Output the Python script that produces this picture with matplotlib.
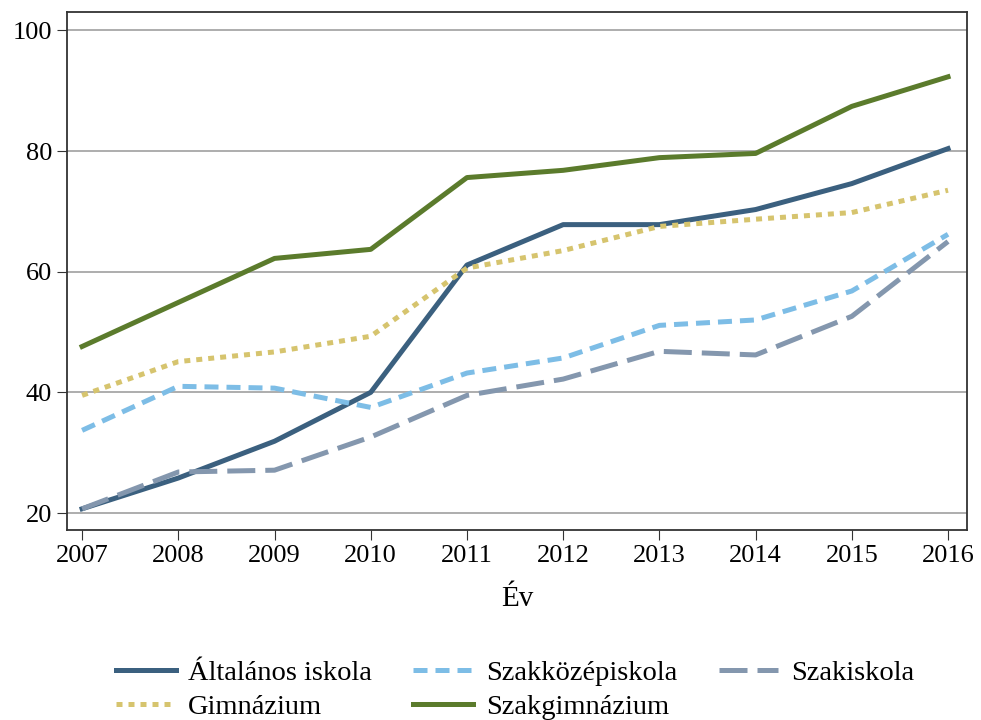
import numpy as np
import matplotlib
matplotlib.use("Agg")
import matplotlib.pyplot as plt

plt.rcParams['font.family'] = ['Liberation Serif', 'DejaVu Serif']

years = [2007, 2008, 2009, 2010, 2011, 2012, 2013, 2014, 2015, 2016]

# értékek
altalanos = [20.7, 25.8, 31.9, 40.0, 61.1, 67.8, 67.8, 70.3, 74.6, 80.4]
gimnazium = [39.5, 45.1, 46.7, 49.3, 60.6, 63.5, 67.5, 68.7, 69.8, 73.5]
szakkozep = [33.7, 41.0, 40.7, 37.5, 43.2, 45.7, 51.1, 52.0, 56.8, 66.2]
szakgimn = [47.6, 54.9, 62.2, 63.7, 75.6, 76.8, 78.9, 79.6, 87.4, 92.3]
szakiskola = [20.7, 26.8, 27.1, 32.6, 39.5, 42.2, 46.8, 46.2, 52.6, 65.0]

fig = plt.figure(figsize=(9.81, 7.2), dpi=100)
ax = fig.add_axes([0.068, 0.264, 0.918, 0.719])

lw = 3.6
ax.plot(years, altalanos, color='#3b607f', lw=lw, solid_joinstyle='round', label='Általános iskola')
ax.plot(years, gimnazium, color='#d6c46e', lw=lw, linestyle=(0, (1.2, 1.2)), label='Gimnázium')
ax.plot(years, szakkozep, color='#7dbde6', lw=lw, linestyle=(0, (2.8, 1.6)), label='Szakközépiskola')
ax.plot(years, szakgimn, color='#5b7b2c', lw=lw, solid_joinstyle='round', label='Szakgimnázium')
ax.plot(years, szakiskola, color='#8497ae', lw=lw, linestyle=(0, (5.6, 2.0)), label='Szakiskola')

ax.set_xlim(2006.84, 2016.2)
ax.set_ylim(17.2, 103)
ax.set_xticks(years)
ax.set_yticks([20, 40, 60, 80, 100])
ax.yaxis.grid(True, color='#a0a0a0', lw=1.2)
ax.set_axisbelow(True)
ax.tick_params(labelsize=19, length=7, color='#333333')
for s in ax.spines.values():
    s.set_color('#333333')
    s.set_linewidth(1.3)
ax.set_xlabel('Év', fontsize=21, labelpad=14)

fig.legend(loc='lower center', bbox_to_anchor=(0.525, -0.036), ncol=3, frameon=False,
           fontsize=20.5, handlelength=2.1, handletextpad=0.45, columnspacing=1.45,
           labelspacing=0.3)

fig.savefig('out.png', dpi=100)
